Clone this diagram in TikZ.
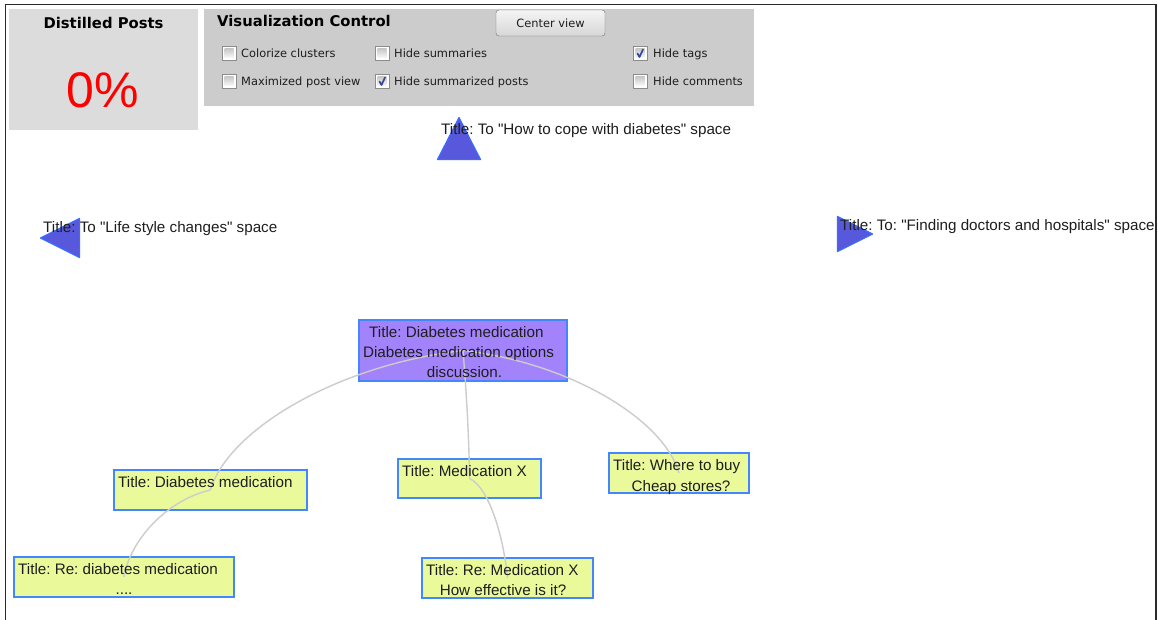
\documentclass[tikz,border=0pt]{standalone}
\usepackage{fontspec}
\setmainfont{Liberation Sans}[Ligatures=TeXOff]
\newfontfamily\uifont{DejaVu Sans}[Ligatures=TeXOff]
\frenchspacing
\begin{document}
\definecolor{panelA}{HTML}{DCDCDC}
\definecolor{panelB}{HTML}{CCCCCC}
\definecolor{postY}{HTML}{EAF99A}
\definecolor{postP}{HTML}{A383FC}
\definecolor{postEdge}{HTML}{4287FF}
\definecolor{triFill}{HTML}{5858DC}
\definecolor{triEdge}{HTML}{3D6BFF}
\definecolor{link}{HTML}{CCCCCC}
\definecolor{ink}{HTML}{1E1E1E}
\definecolor{frameC}{HTML}{2A2A2A}
\definecolor{tick}{HTML}{34479A}
\begin{tikzpicture}[x=1pt,y=-1pt,
  panel/.style={inner sep=0, outer sep=0, anchor=north west},
  post/.style={draw=postEdge, line width=1.6, inner sep=0, outer sep=0, anchor=north west},
  lbl/.style={inner sep=0, text=ink, font=\fontsize{15.2}{18}\selectfont},
  ui/.style={inner sep=0, text=ink, anchor=base west, font=\uifont\fontsize{11.4}{14}\selectfont},
  uibold/.style={inner sep=0, text=black, font=\uifont\bfseries\fontsize{14.8}{17}\selectfont},
  edge/.style={draw=link, line width=1.4},
  tri/.style={fill=triFill, draw=triEdge, line width=1.2, line join=round},
  cbox/.pic={
    \draw[draw=black!45, fill=white, line width=0.9] (0,0) rectangle (14,14);
    \shade[top color=black!22, bottom color=black!3] (2.5,2.5) rectangle (11.5,11.5);
  },
  cboxon/.pic={
    \draw[draw=black!45, fill=white, line width=0.9] (0,0) rectangle (14,14);
    \shade[top color=black!22, bottom color=black!3] (2.5,2.5) rectangle (11.5,11.5);
    \draw[tick, line width=1.7, line cap=round, line join=round] (4.5,7.5) -- (6.5,11) -- (10,3.5);
  }]
\useasboundingbox (0,0) rectangle (1158,620);
\fill[white] (0,0) rectangle (1158,620);

% window frame
\draw[frameC, line width=1.6] (5.5,620) -- (5.5,4.5) -- (1156.2,4.5) -- (1156.2,620);

% distilled posts panel
\node[panel, fill=panelA, minimum width=189, minimum height=121] (distilled) at (9,9) {};
\node[uibold, anchor=base] (distT) at (103.5,29) {Distilled Posts};
\node[inner sep=0, anchor=base west, text=red, font=\fontsize{50}{60}\selectfont] (pct) at (66,108) {0\%};

% visualization control panel
\node[panel, fill=panelB, minimum width=550, minimum height=97] (vis) at (204,9) {};
\node[uibold, anchor=base west] (visT) at (217,27) {Visualization Control};
\node[draw=black!55, rounded corners=3, top color=black!4, bottom color=black!16,
      minimum width=109, minimum height=26, inner sep=0, outer sep=0, anchor=north west,
      font=\uifont\fontsize{11.4}{14}\selectfont, text=ink] (centerbtn) at (496,10) {Center view};

\pic at (222,46) {cbox};
\node[ui] (c1) at (241,58) {Colorize clusters};
\pic at (222,74) {cbox};
\node[ui] (c2) at (241,86) {Maximized post view};
\pic at (375,46) {cbox};
\node[ui] (c3) at (394,58) {Hide summaries};
\pic at (375,74) {cboxon};
\node[ui] (c4) at (394,86) {Hide summarized posts};
\pic at (633,46) {cboxon};
\node[ui] (c5) at (653,58) {Hide tags};
\pic at (633,74) {cbox};
\node[ui] (c6) at (653,86) {Hide comments};

% space portals
\draw[tri] (437.5,159.5) -- (480.5,159.5) -- (459,117.5) -- cycle;
\node[lbl, anchor=base west] (upT) at (441,135) {Title: To "How to cope with diabetes" space};
\draw[tri] (40.5,238) -- (79.5,218.5) -- (79.5,257.5) -- cycle;
\node[lbl, anchor=base west] (leftT) at (43,233) {Title: To "Life style changes" space};
\draw[tri] (837.5,216.5) -- (872.5,234) -- (837.5,251.5) -- cycle;
\node[lbl, anchor=base west] (rightT) at (840,230) {Title: To: "Finding doctors and hospitals" space};

% post boxes
\node[post, fill=postP, minimum width=208, minimum height=61] (main) at (359,320) {};
\node[post, fill=postY, minimum width=193, minimum height=40] (dm) at (114,470) {};
\node[post, fill=postY, minimum width=143, minimum height=39] (medx) at (398,459) {};
\node[post, fill=postY, minimum width=140, minimum height=40] (where) at (609,453) {};
\node[post, fill=postY, minimum width=220, minimum height=40] (redm) at (14,557) {};
\node[post, fill=postY, minimum width=171, minimum height=40] (remx) at (422,558) {};

% reply links
\draw[edge] (main.center) .. controls (337,365) and (228,430) .. (dm.center);
\draw[edge] (main.center) .. controls (467,400) and (469,440) .. (medx.center);
\draw[edge] (main.center) .. controls (571,363) and (664,420) .. (where.center);
\draw[edge] (dm.center) .. controls (167,500) and (130,540) .. (redm.center);
\draw[edge] (medx.center) .. controls (490,488) and (504,540) .. (remx.center);

% post texts
\node[lbl, anchor=base west] (mainT1) at (369,337) {Title: Diabetes medication};
\node[lbl, anchor=base] (mainT2) at (458.5,357) {Diabetes medication options};
\node[lbl, anchor=base] (mainT3) at (464.5,377) {discussion.};
\node[lbl, anchor=base west] (dmT) at (118,487) {Title: Diabetes medication};
\node[lbl, anchor=base west] (medxT) at (402,476) {Title: Medication X};
\node[lbl, anchor=base west] (whereT1) at (613,470) {Title: Where to buy};
\node[lbl, anchor=base] (whereT2) at (681,491) {Cheap stores?};
\node[lbl, anchor=base west] (redmT1) at (18,574) {Title: Re: diabetes medication};
\node[lbl, anchor=base] (redmT2) at (124,594) {....};
\node[lbl, anchor=base west] (remxT1) at (426,575) {Title: Re: Medication X};
\node[lbl, anchor=base] (remxT2) at (503,595) {How effective is it?};
\end{tikzpicture}
\end{document}
